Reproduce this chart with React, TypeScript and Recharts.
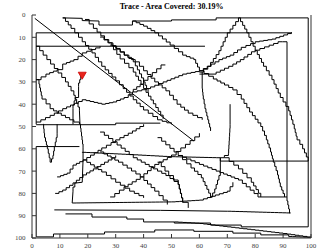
import { ComposedChart, Line, XAxis, YAxis, ReferenceDot } from 'recharts'

type P = [number, number]

const ticks = [0, 10, 20, 30, 40, 50, 60, 70, 80, 90, 100]
const title = 'Trace - Area Covered: 30.19%'
const endPoint: P = [18, 27]

// straight run from the start corner
const diagonal: P[] = [[1, 1.5], [58, 56.5]]
const frameTop: P[] = [[1.5, 49], [1.5, 8], [93, 8]]
const line14: P[] = [[1.5, 14], [62, 14]]
const topLine: P[] = [[11, 1.3], [18, 1.5], [18, 2.5], [24, 2.7], [24, 4.5], [36, 4.5], [36, 2.7], [50, 2.7], [50, 2.2], [66, 2.2], [66, 1.3], [99, 1.3], [99, 95], [75, 95], [75, 94.2], [64, 94.2], [64, 93.3], [51, 93.3], [51, 92.8], [40, 92.8], [40, 91.5], [34, 91.5], [34, 90.6], [21.5, 90.6], [21.5, 89.2], [12, 89.2]]
const stairA: P[] = [[11, 1.3], [14, 6], [18, 12], [21.5, 17], [25, 23], [28.7, 27.8], [32.7, 33], [36.3, 38], [40, 42.6], [45, 47], [50, 49]]
const stairB: P[] = [[19, 2], [22, 6], [26, 11], [29, 14], [33, 18], [37, 21], [40, 25], [44, 30], [48, 34], [52, 40], [56, 44], [61, 47]]
const stairC: P[] = [[24.4, 9.9], [30, 15], [36.3, 21], [40, 30], [41.6, 34.5]]
const stairD: P[] = [[28, 13.5], [31.6, 19.7], [36.3, 25.6], [40, 33], [47, 46.6]]
const backLeft: P[] = [[47.8, 22.4], [40, 31], [36.3, 34.5]]
const leftA: P[] = [[1.5, 14], [4, 18], [8, 24], [12, 30], [15, 36], [17, 43], [17.2, 49]]
const leftB: P[] = [[1.5, 29], [5, 26.5], [9, 24.5], [11, 22], [15, 20], [18, 17], [24.4, 14]]
const leftC: P[] = [[1.5, 29], [2.5, 31], [3.6, 37.7], [6.5, 42], [9, 44], [12, 46], [15, 48], [17, 49]]
const riseE: P[] = [[1.5, 48], [6.5, 45], [11, 42], [18, 38], [25, 40], [29, 39], [33, 37], [36, 34.5], [41, 33], [47, 30], [54, 26.5], [60, 25]]
const lastLeg: P[] = [[18, 27], [17.5, 29], [16.7, 32], [16.7, 37], [15.5, 38.5], [14.7, 42], [14.7, 49]]
const line49: P[] = [[1.5, 49.2], [30, 49.2], [30, 48.5], [46, 48.5]]
const dip: P[] = [[4, 49], [4.5, 55], [5.5, 60], [6.5, 66], [7.5, 63], [8, 59], [9, 53], [9, 49]]
const line59: P[] = [[1.5, 59], [17, 59]]
const bottomLeft: P[] = [[1.5, 59], [1.5, 99.5], [7.7, 99.5], [7.7, 98.2], [26, 98.2], [26, 97.3], [44, 97.3], [44, 96.4], [58, 96.4], [58, 97], [72, 97], [72, 97.8], [82, 97.8], [82, 98.6], [92, 98.6], [92, 99.3], [100, 99.8]]
const line87: P[] = [[8, 87.4], [46, 87.6], [70, 88], [92.6, 88.8], [91.4, 81.6], [91.4, 12], [89.8, 12]]
const riseB: P[] = [[89.8, 12], [85, 14.3], [80, 16.5], [76, 20], [72, 23], [66, 26.5], [60, 26.5]]
const riseA: P[] = [[60, 25], [67, 20], [71, 18], [75, 14.5], [80, 12], [86, 10.8], [93, 7.7]]
const peak: P[] = [[60, 25.6], [63, 23], [67, 16], [70, 8], [74, 1.3], [77, 8], [80, 16], [83, 23], [86, 29], [89, 37], [92, 43], [94, 51], [95, 56], [97, 60], [99, 65.5]]
const line64: P[] = [[99, 65.5], [67.5, 65.5], [67.5, 64], [50, 63.5], [35, 62.5], [18, 61.5]]
const fallR: P[] = [[60, 25], [65, 28.7], [69, 31.4], [72, 33.6], [75, 37.7], [78, 43.5], [82, 50], [84, 56], [85.5, 61.4], [86.5, 66], [88, 71.7], [89, 77], [90.5, 81.6]]
const fallR2: P[] = [[52.4, 63], [60, 67], [66, 70], [74, 74], [81, 81.6], [91.4, 81.6]]
const fallR3: P[] = [[69, 64], [74, 69], [78.6, 75], [82, 81.6]]
const vee: P[] = [[45, 55], [52.4, 63], [57, 68.6], [60.7, 73], [64, 81.6], [65.5, 78], [67.5, 70], [67.5, 64], [70.4, 62], [71, 49], [71, 40]]
const crossA: P[] = [[24.4, 61.4], [31, 66], [38.8, 72.6], [44, 79], [48.5, 85]]
const crossB: P[] = [[28, 81.6], [33, 77], [38.8, 72.6], [44, 67], [50, 62.8], [55, 58], [60, 53]]
const crossC: P[] = [[24.4, 52.5], [30.5, 58.3], [36.3, 64], [42, 68], [48, 72], [52.4, 76], [54, 84]]
const hubA: P[] = [[17.2, 49], [18.3, 59.6], [18.3, 65], [25, 70.4], [30, 75], [35, 79], [40, 82]]
const hubB: P[] = [[9, 72.6], [12.6, 70.9], [14.7, 67.3], [18.3, 65], [25, 59.6], [30, 56], [36, 52], [40, 49]]
const hubC: P[] = [[8.3, 80], [11, 78.5], [14.7, 75.3], [18.3, 71.7], [22, 69], [26, 66], [30, 63]]
const hubD: P[] = [[18.3, 65], [18, 75], [16, 75.3], [14.7, 79], [14.4, 84.3], [50, 83.8], [60, 83], [70, 79], [72, 75]]
const lowMid: P[] = [[45, 66], [49, 72], [52.4, 76], [54, 84], [56, 86.5]]
const fan: P[] = [[51, 92.8], [60, 93.5], [70, 95], [80, 96.5], [90, 98], [100, 99.8]]
const backUp: P[] = [[36, 2.7], [40, 5], [44, 8], [49.5, 13.5], [54, 18], [58, 20], [60, 25]]
const midDrop: P[] = [[61, 25.6], [61, 33], [61.4, 37.7], [62, 42], [63, 47], [64, 52]]

const paths: P[][] = [
  frameTop, line14, topLine, stairA, stairB, stairC, stairD, backLeft, leftA, leftB, leftC, riseE, lastLeg, line49, dip, line59,
  bottomLeft, line87, riseB, riseA, peak, line64, fallR, fallR2, fallR3, vee, crossA, crossB, crossC,
  hubA, hubB, hubC, hubD, lowMid, fan, backUp, midDrop,
]

const rows = (p: P[]) => p.map(([x, y]) => ({ x, y }))

// the robot moves on a grid, so slanted moves are drawn as small stairs
const stairs = (context: any) => {
  let px = 0
  let py = 0
  let first = true
  return {
    areaStart() {},
    areaEnd() {},
    lineStart() { first = true },
    lineEnd() {},
    point(x: number, y: number) {
      if (first) {
        context.moveTo(x, y)
        first = false
      } else {
        const dx = x - px
        const dy = y - py
        if (Math.abs(dx) < 1 || Math.abs(dy) < 1) {
          context.lineTo(x, y)
        } else {
          const n = Math.max(1, Math.round(Math.max(Math.abs(dx), Math.abs(dy)) / 4))
          for (let i = 1; i <= n; i++) {
            context.lineTo(px + (dx * i) / n, py + (dy * (i - 1)) / n)
            context.lineTo(px + (dx * i) / n, py + (dy * i) / n)
          }
        }
      }
      px = x
      py = y
    },
  }
}

const Tick = (props: any) => {
  const { x, y, payload, textAnchor, orientation } = props
  return (
    <text x={x} y={y} dy={orientation === 'bottom' ? '0.71em' : '0.35em'} textAnchor={textAnchor}
      fill="#444" stroke="none" fontSize={7} fontFamily="Liberation Serif">
      {payload.value}
    </text>
  )
}

const Marker = (props: any) => {
  const { cx, cy } = props
  return <path d={`M${cx - 4},${cy - 3}L${cx + 4},${cy - 3}L${cx},${cy + 4}Z`} fill="#e8241c" stroke="#c00" strokeWidth={0.8} />
}

export default function App() {
  return (
    <div style={{ position: 'absolute', left: 0, top: 0, width: 318, height: 252, background: '#fff' }}>
      <div style={{ position: 'absolute', top: 2, left: 32, width: 279, textAlign: 'center', fontSize: 8, fontWeight: 'bold', fontFamily: 'Liberation Serif', lineHeight: '10px' }}>
        {title}
      </div>
      <ComposedChart width={318} height={252} margin={{ top: 15, right: 0, bottom: 0, left: 0 }}>
        <XAxis xAxisId="b" type="number" dataKey="x" domain={[0, 100]} ticks={ticks} interval={0} orientation="bottom" height={14}
          tickSize={-4} tickMargin={9} tick={<Tick orientation="bottom" />} stroke="#333" allowDataOverflow />
        <XAxis xAxisId="t" type="number" dataKey="x" domain={[0, 100]} ticks={ticks} interval={0} orientation="top" height={0}
          tickSize={-4} tick={false} stroke="#333" allowDataOverflow />
        <YAxis yAxisId="l" type="number" dataKey="y" domain={[0, 100]} ticks={ticks} interval={0} reversed orientation="left" width={32}
          tickSize={-4} tickMargin={10.5} tick={<Tick orientation="left" />} stroke="#333" allowDataOverflow />
        <YAxis yAxisId="r" type="number" dataKey="y" domain={[0, 100]} ticks={ticks} interval={0} reversed orientation="right" width={7}
          tickSize={-4} tick={false} stroke="#333" allowDataOverflow />
        <Line xAxisId="b" yAxisId="l" data={rows(diagonal)} dataKey="y" type="linear" stroke="#000" strokeWidth={1}
          dot={false} activeDot={false} isAnimationActive={false} />
        {paths.map((p, i) => (
          <Line key={i} xAxisId="b" yAxisId="l" data={rows(p)} dataKey="y" type={stairs as any} stroke="#000" strokeWidth={1}
            dot={false} activeDot={false} isAnimationActive={false} />
        ))}
        <ReferenceDot xAxisId="b" yAxisId="l" x={endPoint[0]} y={endPoint[1]} shape={Marker} />
      </ComposedChart>
    </div>
  )
}
